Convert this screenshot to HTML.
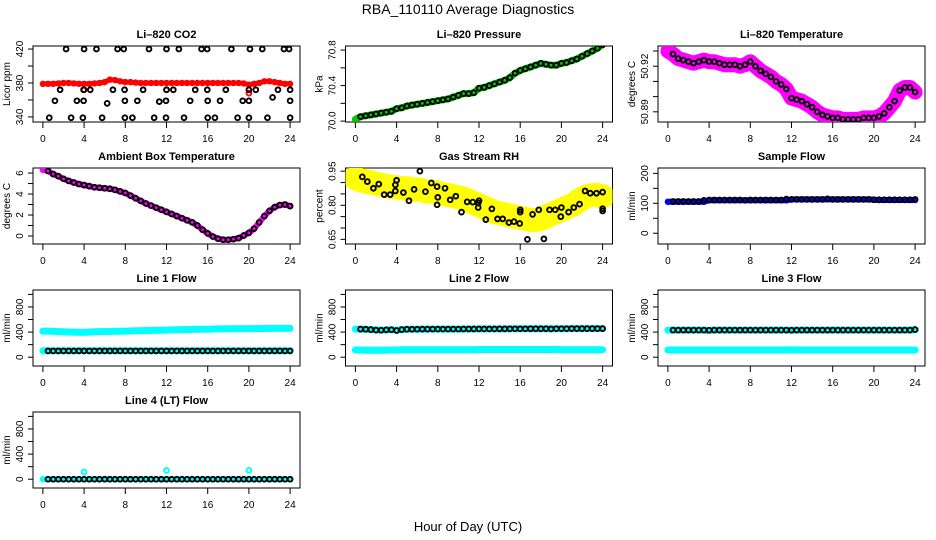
<!DOCTYPE html>
<html><head><meta charset="utf-8"><style>
html,body{margin:0;padding:0;background:#fff;}
svg{display:block;font-family:"Liberation Sans",sans-serif;}
</style></head><body>
<svg id="chart" width="936" height="540" viewBox="0 0 936 540" xmlns="http://www.w3.org/2000/svg">
<text x="468" y="14" text-anchor="middle" font-size="14">RBA_110110  Average Diagnostics</text>
<text x="468" y="531" text-anchor="middle" font-size="13">Hour of Day (UTC)</text>
</svg>
<script>
// hourly categories (0.5 h step)
const hoursBand = [0,0.5,1,1.5,2,2.5,3,3.5,4,4.5,5,5.5,6,6.5,7,7.5,8,8.5,9,9.5,10,10.5,11,11.5,12,12.5,13,13.5,14,14.5,15,15.5,16,16.5,17,17.5,18,18.5,19,19.5,20,20.5,21,21.5,22,22.5,23,23.5,24];
const xTicks = [0,4,8,12,16,20,24];

// Panel 1: CO2
const co2Band = [379,379,379,379.5,380,380,379.5,379,379,379,379.5,380,381,384,383.5,382,381,381,380.5,380,380,380,380,380,380,380,380,380,380,380,380,380,380,380,380,380,380,380,380,379.5,378,379,380,382,382,381,380,379,379];
const co2RedHours = [4,12,20];
const co2RedValues = [372,372,368];
const co2BlackHours = [2.25,4.0,5.2,7.25,7.85,10.3,12.0,13.2,15.4,15.95,18.3,20.1,21.3,23.4,23.9,
 1.67,3.95,4.6,6.8,7.93,9.73,12.0,12.66,14.79,15.96,17.76,20.0,20.67,22.82,24.0,
 1.17,3.3,3.95,6.24,7.96,9.17,11.3,11.95,14.3,16.0,17.2,19.4,20.0,22.3,24.0,
 0.62,2.74,3.88,5.75,7.96,8.69,10.8,11.95,13.7,16.0,16.7,18.9,20.0,21.8,24.0];
const co2BlackValues = [420,420,420,420,420,420,420,420,420,420,420,420,420,420,420,
 372,372,372,372,372,372,372,372,372,372,372,372,372,372,372,
 359,359,359,356,359,359,358,359,359,359,359,359,359,363,359,
 339,339,339,339,339,339,339,339,339,339,339,339,339,339,339];

// Panel 2: Pressure
const presBand = [70.02,70.05,70.06,70.07,70.08,70.09,70.10,70.11,70.14,70.15,70.17,70.18,70.19,70.20,70.21,70.22,70.23,70.24,70.25,70.27,70.29,70.31,70.31,70.32,70.37,70.38,70.40,70.42,70.44,70.46,70.49,70.54,70.57,70.59,70.61,70.63,70.65,70.64,70.63,70.63,70.65,70.66,70.68,70.70,70.73,70.76,70.79,70.82,70.86];

// Panel 3: Li-820 temperature
const tempBand = [50.930,50.928,50.925,50.924,50.923,50.922,50.923,50.924,50.923,50.923,50.922,50.921,50.921,50.921,50.920,50.921,50.923,50.920,50.917,50.915,50.913,50.910,50.908,50.905,50.899,50.898,50.897,50.895,50.893,50.890,50.888,50.887,50.886,50.886,50.885,50.885,50.885,50.885,50.886,50.886,50.886,50.887,50.889,50.893,50.897,50.904,50.906,50.906,50.903];

// Panel 4: Ambient box temperature
const ambBand = [6.3,6.2,5.9,5.7,5.45,5.25,5.1,4.95,4.85,4.75,4.65,4.6,4.55,4.5,4.4,4.25,4.1,3.85,3.6,3.35,3.1,2.9,2.7,2.5,2.3,2.1,1.9,1.7,1.5,1.3,1.0,0.6,0.25,-0.05,-0.25,-0.35,-0.35,-0.3,-0.2,0.05,0.3,0.7,1.3,1.9,2.4,2.75,2.95,3.0,2.85];

// Panel 5: Gas stream RH
const rhBand = [0.92,0.91,0.905,0.9,0.895,0.89,0.885,0.88,0.88,0.875,0.875,0.87,0.87,0.865,0.86,0.86,0.855,0.85,0.845,0.84,0.835,0.83,0.82,0.81,0.8,0.79,0.78,0.77,0.765,0.76,0.755,0.75,0.745,0.74,0.735,0.735,0.74,0.75,0.76,0.77,0.78,0.79,0.8,0.815,0.83,0.84,0.845,0.845,0.84];
const rhBlackHours = [0.67,1.16,1.75,2.27,2.8,3.38,3.88,4.0,3.88,4.66,5.2,5.7,6.26,6.8,7.37,7.93,8.0,7.93,8.7,9.2,9.75,10.3,10.85,11.4,11.92,12.0,11.92,12.66,13.25,13.8,14.3,14.9,15.4,15.95,16.0,16.0,16.7,17.2,17.8,18.3,18.85,19.4,19.94,20.0,20.7,21.2,21.76,22.3,22.8,23.4,24.0,24.0,24.0];
const rhBlackValues = [0.925,0.904,0.875,0.893,0.847,0.847,0.89,0.91,0.863,0.856,0.82,0.87,0.95,0.86,0.898,0.882,0.835,0.802,0.875,0.824,0.84,0.77,0.815,0.814,0.81,0.82,0.79,0.737,0.784,0.74,0.74,0.724,0.728,0.72,0.78,0.77,0.65,0.76,0.78,0.652,0.78,0.78,0.75,0.79,0.77,0.79,0.805,0.863,0.853,0.853,0.858,0.785,0.775];

// Panel 6: Sample flow
const sampBand = [105,105,105,105,105,105,105,105,110,110,110,110,110,110,110,110,110,110,110,110,110,110,110,110,113,113,113,113,113,113,113,113,113,113,113,113,113,113,113,113,112,111,111,111,111,111,111,111,111];
const sampBlack = [106,106,106,106,106,106,106,110,111,111,111,111,111,111,111,110,111,111,111,111,111,111,111,114,113,113,113,113,113,113,113,115,113,113,113,113,113,113,113,113,112,112,112,112,112,112,112,112,113];

// Panel 7: Line 1 flow
const l1CyanHigh = [416,415,412,408,405,402,400,398,395,400,405,408,410,410,412,412,415,418,420,422,425,425,428,430,432,435,438,440,440,442,444,445,446,448,450,450,452,452,454,455,455,456,456,457,458,458,458,458,458];
const l1CyanLow = [104,104,104,104,104,104,104,104,104,104,104,104,104,104,104,104,104,104,104,104,104,104,104,104,104,104,104,104,104,104,104,104,104,104,104,104,104,104,104,104,104,104,104,104,104,104,104,104,104];
const l1Black = [100,100,100,100,100,100,100,100,100,100,100,100,100,100,100,100,100,100,100,100,100,100,100,100,100,100,100,100,100,100,100,100,100,100,100,100,100,100,100,100,100,100,100,100,100,100,100,100,100];

// Panel 8: Line 2 flow
const l2CyanHigh = [447,447,445,440,435,432,435,438,430,440,445,445,446,447,447,448,448,448,448,448,448,449,449,449,450,450,450,450,451,451,452,452,452,452,453,453,453,453,454,454,454,454,455,455,455,455,455,455,455];
const l2CyanLow = [115,115,112,110,110,110,112,114,115,118,118,118,118,118,118,118,118,118,118,118,118,118,118,118,122,122,122,122,122,122,122,122,122,122,122,122,122,122,122,122,120,120,120,120,120,120,120,120,120];
const l2Black = [447,447,445,440,432,430,435,438,425,440,445,445,446,447,447,448,448,448,448,448,448,449,449,449,450,450,450,450,451,451,452,452,452,452,453,453,453,453,450,454,454,454,455,455,455,455,455,455,455];

// Panel 9: Line 3 flow
const l3CyanHigh = [432,432,432,432,432,432,432,432,425,432,432,432,432,432,432,432,432,432,432,432,432,432,432,432,428,432,432,432,432,432,432,432,432,432,432,432,432,432,432,432,432,432,432,432,432,432,432,432,440];
const l3CyanLow = [115,115,115,115,115,115,115,115,115,115,115,115,115,115,115,115,115,115,115,115,115,115,115,115,118,115,115,115,115,115,115,115,115,115,115,115,115,115,115,115,115,115,115,115,115,115,115,115,115];
const l3Black = [432,432,432,432,432,432,432,432,430,432,432,432,432,432,432,432,432,432,432,432,432,432,432,432,430,432,432,432,432,432,432,432,432,432,432,432,432,432,432,432,432,432,432,432,432,432,432,432,440];

// Panel 10: Line 4 flow
const l4Cyan = [0,0,0,0,0,0,0,0,0,0,0,0,0,0,0,0,0,0,0,0,0,0,0,0,0,0,0,0,0,0,0,0,0,0,0,0,0,0,0,0,0,0,0,0,0,0,0,0,0];
const l4SpikeHours = [4,12,20];
const l4SpikeValues = [115,141,141];
const l4Black = [0,0,0,0,0,0,0,0,0,0,0,0,0,0,0,0,0,0,0,0,0,0,0,0,0,0,0,0,0,0,0,0,0,0,0,0,0,0,0,0,0,0,0,0,0,0,0,0,0];

const NS = 'http://www.w3.org/2000/svg';
const svg = document.getElementById('chart');
function mk(tag, attrs, parent){
  const e = document.createElementNS(NS, tag);
  for (const k in attrs) e.setAttribute(k, attrs[k]);
  (parent||svg).appendChild(e);
  return e;
}

function panel(slug, col, row, ylim, yticks, ylabels, title, ylab){
  const L = 33 + col*312.5, T = 46 + row*122, W = 267, H = 76;
  const g = mk('g', {});
  
  
  const xs = v => L + (v + 0.96) / 25.92 * W;
  const ys = v => T + H - (v - ylim[0]) / (ylim[1] - ylim[0]) * H;
  const t = mk('text', {x: L + W/2, y: T - 8, 'text-anchor':'middle', 'font-size':'11', 'font-weight':'bold'}, g);
  t.textContent = title;
  
  
  const box = mk('rect', {x:L, y:T, width:W, height:H, fill:'none', stroke:'#000', 'stroke-width':'1'}, g);
  
  
  const xa = mk('g', {}, g);
  
  
  mk('line', {x1:xs(xTicks[0]), x2:xs(xTicks[xTicks.length-1]), y1:T+H, y2:T+H, stroke:'#000'}, xa);
  xTicks.forEach(v => {
    mk('line', {x1:xs(v), x2:xs(v), y1:T+H, y2:T+H+6, stroke:'#000'}, xa);
    const tl = mk('text', {x:xs(v), y:T+H+20, 'text-anchor':'middle', 'font-size':'10'}, xa);
    tl.textContent = v;
  });
  const ya = mk('g', {}, g);
  
  
  mk('line', {x1:L, x2:L, y1:ys(yticks[0]), y2:ys(yticks[yticks.length-1]), stroke:'#000'}, ya);
  yticks.forEach((v,i) => {
    mk('line', {x1:L-5, x2:L, y1:ys(v), y2:ys(v), stroke:'#000'}, ya);
    if (ylabels[i] !== '') {
      const tl = mk('text', {x:L-10, y:ys(v), 'text-anchor':'middle', 'font-size':'10', transform:`rotate(-90 ${L-10} ${ys(v)})`}, ya);
      tl.textContent = ylabels[i];
    }
  });
  const yt = mk('text', {x:L-23, y:T+H/2, 'text-anchor':'middle', 'font-size':'10', transform:`rotate(-90 ${L-23} ${T+H/2})`}, g);
  yt.textContent = ylab;
  
  
  const clip = mk('clipPath', {id:'clip-' + slug}, g);
  mk('rect', {x:L, y:T, width:W, height:H}, clip);
  const plot = mk('g', {'clip-path':`url(#clip-${slug})`}, g);
  return {xs, ys, plot};
}

function band(p, name, hrs, vals, color, width){
  const d = hrs.map((h,i) => (i ? 'L' : 'M') + p.xs(h).toFixed(1) + ' ' + p.ys(vals[i]).toFixed(1)).join(' ');
  const e = mk('path', {d, fill:'none', stroke:color, 'stroke-width':width, 'stroke-linejoin':'round', 'stroke-linecap':'round'}, p.plot);
  
  
  hrs.forEach((h,i) => {
    const c = mk('circle', {cx:p.xs(h), cy:p.ys(vals[i]), r:2.5, fill:'none', stroke:color, 'stroke-width':1.4}, p.plot);
    
    
  });
}
function points(p, name, hrs, vals, color){
  hrs.forEach((h,i) => {
    const c = mk('circle', {cx:p.xs(h), cy:p.ys(vals[i]), r:2.4, fill:'none', stroke:color, 'stroke-width':1.9}, p.plot);
    
    
  });
}
const blackHours = hoursBand.slice(1);
const tail = a => a.slice(1);

const flowTicks = [0,200,400,600,800,1000], flowLabels = ['0','','400','','800',''];
const flowLim = [-140,1070];

let p;
p = panel('co2', 0, 0, [334,423.6], [340,360,380,400,420], ['340','','380','','420'], 'Li\u2013820 CO2', 'Licor ppm');
band(p, 'co2-red-series', hoursBand, co2Band, '#ff0000', 5);
points(p, 'co2-red-outlier', co2RedHours, co2RedValues, '#ff0000');
points(p, 'co2-black-point', co2BlackHours, co2BlackValues, '#000');

p = panel('pressure', 1, 0, [69.99,70.846], [70.0,70.2,70.4,70.6,70.8], ['70.0','','70.4','','70.8'], 'Li\u2013820 Pressure', 'kPa');
band(p, 'pressure-green-series', hoursBand, presBand, '#00cc00', 7);
points(p, 'pressure-black-point', blackHours, tail(presBand), '#000');

p = panel('li820-temp', 2, 0, [50.8833,50.9333], [50.89,50.90,50.91,50.92,50.93], ['50.89','','','50.92',''], 'Li\u2013820 Temperature', 'degrees C');
band(p, 'li820-temp-magenta-series', hoursBand, tempBand, '#ff00ff', 15);
points(p, 'li820-temp-black-point', blackHours, tail(tempBand), '#000');

p = panel('ambient', 0, 1, [-0.76,6.48], [0,1,2,3,4,5,6], ['0','','2','','4','','6'], 'Ambient Box Temperature', 'degrees C');
band(p, 'ambient-magenta-series', hoursBand, ambBand, '#ff00ff', 6);
points(p, 'ambient-black-point', blackHours, tail(ambBand), '#000');

p = panel('rh', 1, 1, [0.6296,0.964], [0.65,0.70,0.75,0.80,0.85,0.90,0.95], ['0.65','','','0.80','','','0.95'], 'Gas Stream RH', 'percent');
band(p, 'rh-yellow-series', hoursBand, rhBand, '#ffff00', 24);
points(p, 'rh-black-point', rhBlackHours, rhBlackValues, '#000');

p = panel('sample-flow', 2, 1, [-36,218], [0,50,100,150,200], ['0','','100','','200'], 'Sample Flow', 'ml/min');
band(p, 'sample-flow-blue-series', hoursBand, sampBand, '#0000ff', 6);
points(p, 'sample-flow-black-point', blackHours, tail(sampBlack), '#000');

p = panel('line1', 0, 2, flowLim, flowTicks, flowLabels, 'Line 1 Flow', 'ml/min');
band(p, 'line1-cyan-high', hoursBand, l1CyanHigh, '#00ffff', 7);
band(p, 'line1-cyan-low', hoursBand, l1CyanLow, '#00ffff', 7);
points(p, 'line1-black-point', blackHours, tail(l1Black), '#000');

p = panel('line2', 1, 2, flowLim, flowTicks, flowLabels, 'Line 2 Flow', 'ml/min');
band(p, 'line2-cyan-high', hoursBand, l2CyanHigh, '#00ffff', 7);
band(p, 'line2-cyan-low', hoursBand, l2CyanLow, '#00ffff', 7);
points(p, 'line2-black-point', blackHours, tail(l2Black), '#000');

p = panel('line3', 2, 2, flowLim, flowTicks, flowLabels, 'Line 3 Flow', 'ml/min');
band(p, 'line3-cyan-high', hoursBand, l3CyanHigh, '#00ffff', 7);
band(p, 'line3-cyan-low', hoursBand, l3CyanLow, '#00ffff', 7);
points(p, 'line3-black-point', blackHours, tail(l3Black), '#000');

p = panel('line4', 0, 3, flowLim, flowTicks, flowLabels, 'Line 4 (LT) Flow', 'ml/min');
band(p, 'line4-cyan-series', hoursBand, l4Cyan, '#00ffff', 5);
points(p, 'line4-cyan-spike', l4SpikeHours, l4SpikeValues, '#00ffff');
points(p, 'line4-black-point', blackHours, tail(l4Black), '#000');
</script>
</body></html>
